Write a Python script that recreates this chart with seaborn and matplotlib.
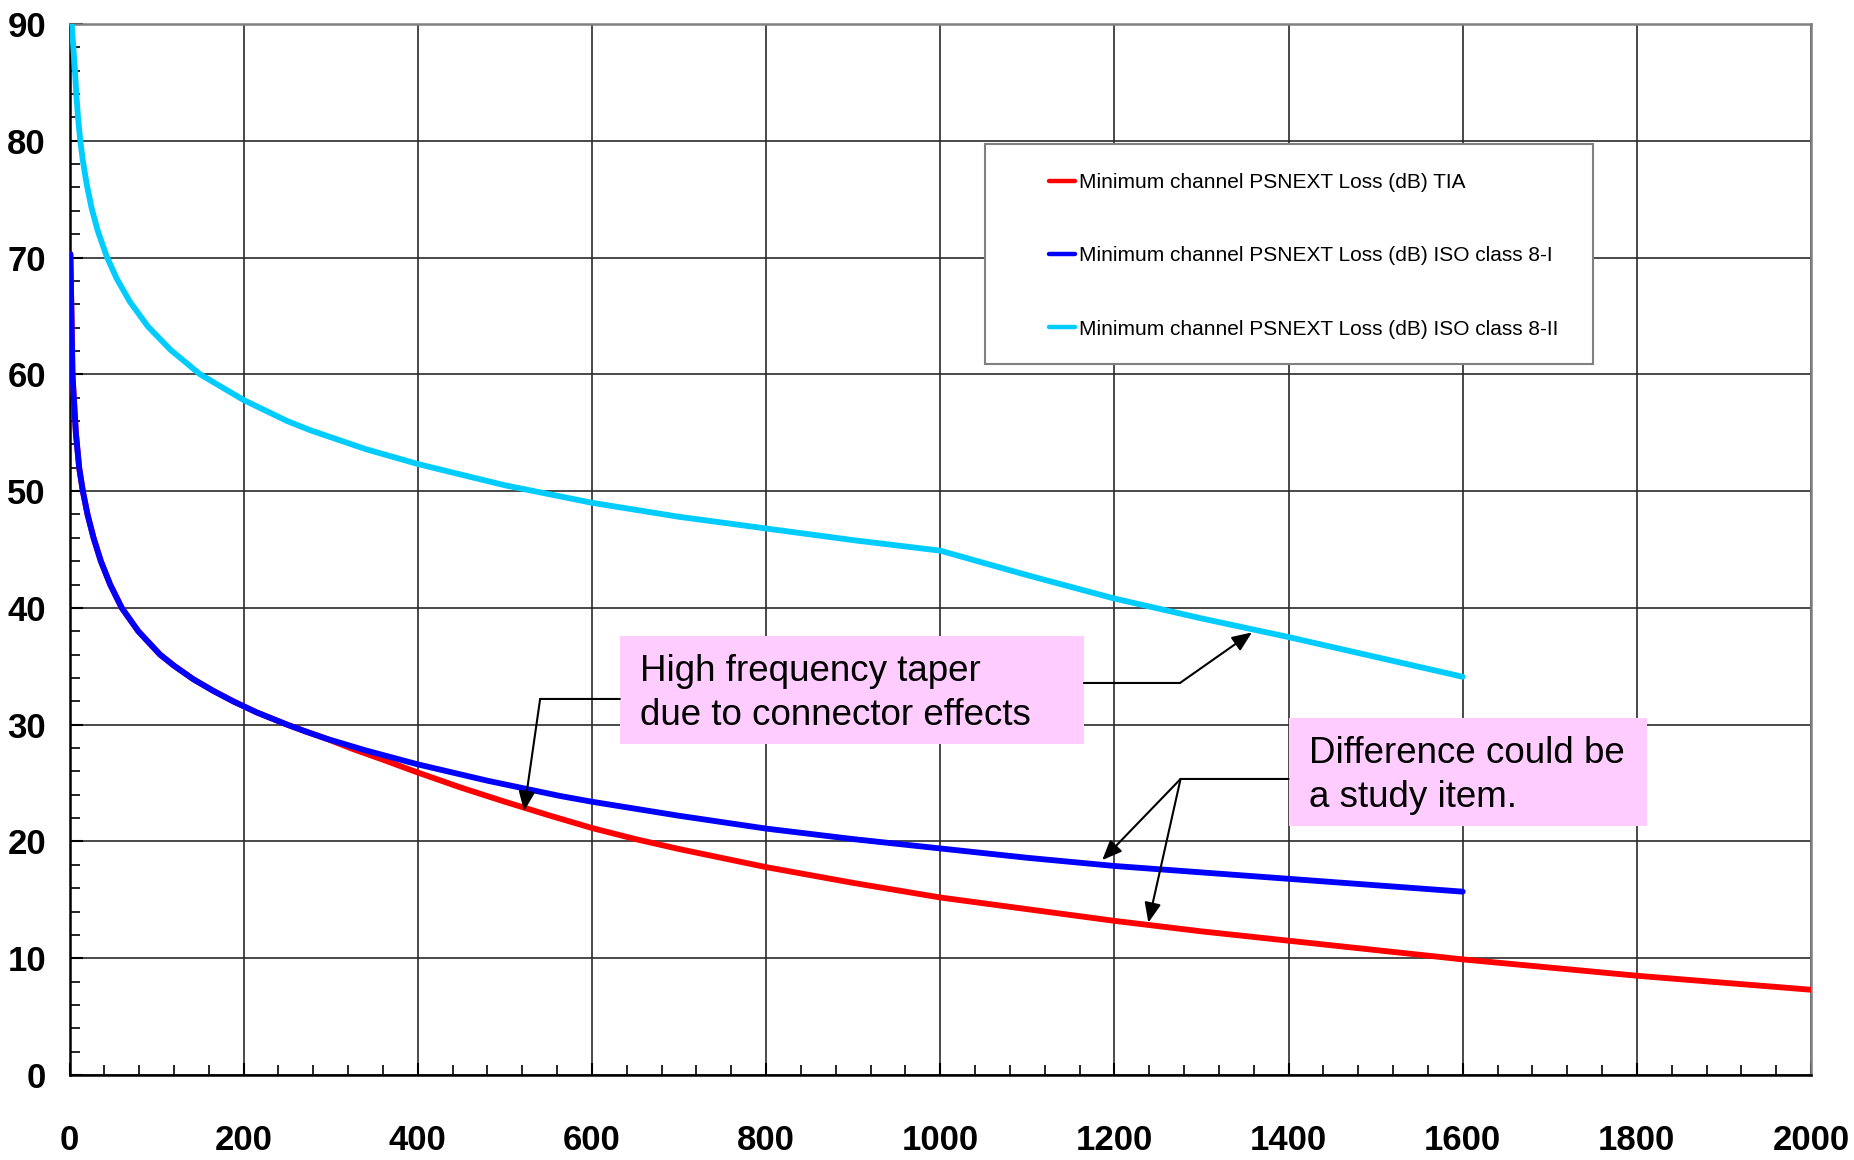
import matplotlib
matplotlib.use('Agg')
import matplotlib.pyplot as plt
import seaborn as sns
import pandas as pd
from matplotlib.patches import Rectangle
from matplotlib.ticker import MultipleLocator

# ---------------- data ----------------
label_tia = 'Minimum channel PSNEXT Loss (dB) TIA'
label_iso1 = 'Minimum channel PSNEXT Loss (dB) ISO class 8-I'
label_iso2 = 'Minimum channel PSNEXT Loss (dB) ISO class 8-II'

freq_tia = [1, 2.3, 3.4, 7.3, 11.1, 15.3, 20.7, 27.6, 36, 46.7, 60, 79, 104, 120, 142, 165,
            188, 215, 250, 270, 295, 326, 360, 400, 450, 500, 550, 600, 650, 700, 800, 900,
            1000, 1100, 1200, 1300, 1400, 1500, 1600, 1700, 1800, 1900, 2000]
psnext_tia = [70.3, 65.0, 60.0, 55.0, 52.0, 50.0, 48.0, 46.0, 44.0, 42.0, 40.0, 38.0, 36.0,
              35.05, 33.9, 32.9, 32.0, 31.05, 30.0, 29.45, 28.8, 27.9, 27.0, 25.9, 24.6, 23.4,
              22.25, 21.15, 20.2, 19.35, 17.8, 16.45, 15.2, 14.2, 13.2, 12.3, 11.5, 10.7,
              9.9, 9.2, 8.5, 7.9, 7.3]

freq_iso1 = [1, 2.3, 3.4, 7.3, 11.1, 15.3, 20.7, 27.6, 36, 46.7, 60, 79, 104, 120, 142, 165,
             188, 215, 250, 270, 295, 340, 400, 480, 563, 600, 700, 800, 900, 1000, 1100,
             1200, 1400, 1600]
psnext_iso1 = [70.3, 65.0, 60.0, 55.0, 52.0, 50.0, 48.0, 46.0, 44.0, 42.0, 40.0, 38.0, 36.0,
               35.05, 33.9, 32.9, 32.0, 31.05, 30.0, 29.45, 28.8, 27.8, 26.6, 25.2, 23.9, 23.4,
               22.2, 21.1, 20.2, 19.4, 18.6, 17.9, 16.8, 15.7]

freq_iso2 = [1, 2.5, 4.4, 6.3, 7.8, 9.8, 12.1, 15.1, 19.7, 25.5, 32.4, 42.7, 54.2, 69.5, 90,
             116, 150, 200, 250, 277, 340, 401, 500, 600, 700, 800, 900, 1000, 1100, 1200,
             1300, 1400, 1500, 1600]
psnext_iso2 = [92.0, 90.0, 88.0, 86.0, 84.0, 82.0, 80.2, 78.4, 76.3, 74.2, 72.3, 70.1, 68.2,
               66.2, 64.1, 62.1, 60.0, 57.8, 56.0, 55.2, 53.6, 52.3, 50.5, 49.0, 47.8, 46.8,
               45.8, 44.9, 42.8, 40.8, 39.1, 37.5, 35.8, 34.1]

x_ticks = list(range(0, 2001, 200))
y_ticks = list(range(0, 91, 10))

note_taper = ['High frequency taper', 'due to connector effects']
note_study = ['Difference could be', 'a study item.']

series_order = [label_tia, label_iso1, label_iso2]
palette = {label_tia: '#FF0000', label_iso1: '#0000FF', label_iso2: '#00CCFF'}

df = pd.concat([
    pd.DataFrame({'freq': freq_tia, 'loss': psnext_tia, 'series': label_tia}),
    pd.DataFrame({'freq': freq_iso1, 'loss': psnext_iso1, 'series': label_iso1}),
    pd.DataFrame({'freq': freq_iso2, 'loss': psnext_iso2, 'series': label_iso2}),
], ignore_index=True)

# ---------------- style ----------------
sns.set_theme(style='white')
font = ['Liberation Sans', 'DejaVu Sans']
plt.rcParams['font.family'] = font
plt.rcParams['text.color'] = 'black'

fig = plt.figure(figsize=(18.54, 11.6), dpi=100)
ax = fig.add_axes([69.5 / 1854, 1 - 1075 / 1160, (1811 - 69.5) / 1854, (1075 - 24) / 1160])

sns.lineplot(data=df, x='freq', y='loss', hue='series', hue_order=series_order,
             palette=palette, linewidth=4.2, estimator=None, sort=False, ax=ax, zorder=4)

ax.set_xlim(0, 2000)
ax.set_ylim(0, 90)
ax.set_xticks(x_ticks)
ax.set_yticks(y_ticks)
ax.set_xticklabels([str(v) for v in x_ticks])
ax.set_yticklabels([str(v) for v in y_ticks])
ax.xaxis.set_minor_locator(MultipleLocator(40))
ax.yaxis.set_minor_locator(MultipleLocator(2))
ax.set_xlabel('')
ax.set_ylabel('')

ax.grid(True, which='major', color='#2a2a2a', linewidth=1.2)
ax.set_axisbelow(True)

ax.tick_params(axis='both', which='major', direction='in', length=9, width=1.5,
               color='black', bottom=True, left=True, labelsize=25, labelcolor='black')
ax.tick_params(axis='x', which='major', pad=35)
ax.tick_params(axis='y', which='major', pad=17)
ax.tick_params(axis='both', which='minor', direction='in', length=7, width=1.2,
               color='black', bottom=True, left=True)
for lab in ax.get_xticklabels() + ax.get_yticklabels():
    lab.set_fontweight('bold')

for side in ['left', 'bottom']:
    ax.spines[side].set_color('black')
    ax.spines[side].set_linewidth(1.8)
for side in ['top', 'right']:
    ax.spines[side].set_color('#808080')
    ax.spines[side].set_linewidth(1.8)

# ---------------- legend ----------------
ax.add_patch(Rectangle((1051.7, 60.86), 698.3, 18.84, transform=ax.transData,
                       facecolor='white', edgecolor='#808080', linewidth=1.5, zorder=5))
handles, labels = ax.get_legend_handles_labels()
leg = ax.legend(handles, labels, loc='upper left', bbox_to_anchor=(0.5624, 0.858),
                frameon=False, borderpad=0, borderaxespad=0, handlelength=1.25,
                handletextpad=0.2, labelspacing=2.6,
                prop={'family': font, 'size': 15})
leg.set_zorder(6)
for ln in leg.get_lines():
    ln.set_linewidth(3.2)
for t in leg.get_texts():
    t.set_color('black')

# ---------------- annotation boxes ----------------
pink = '#FFCCFF'
ax.add_patch(Rectangle((632, 28.35), 533, 9.28, facecolor=pink, edgecolor='none', zorder=5))
ax.text(655.4, 33.77, note_taper[0], fontsize=26.5, va='baseline', ha='left', zorder=6)
ax.text(655.4, 30.0, note_taper[1], fontsize=26.5, va='baseline', ha='left', zorder=6)

ax.add_patch(Rectangle((1400, 21.28), 412, 9.29, facecolor=pink, edgecolor='none', zorder=5))
ax.text(1423.8, 26.68, note_study[0], fontsize=26.5, va='baseline', ha='left', zorder=6)
ax.text(1423.8, 22.97, note_study[1], fontsize=26.5, va='baseline', ha='left', zorder=6)

plain = dict(arrowstyle='-', color='black', lw=1.5, shrinkA=0, shrinkB=0)
arrow = dict(arrowstyle='-|>,head_length=0.6,head_width=0.25', color='black', lw=1.5,
             shrinkA=0, shrinkB=0, mutation_scale=20)

# taper -> red curve
ax.annotate('', xy=(540.5, 32.2), xytext=(632, 32.2), arrowprops=plain, zorder=6)
ax.annotate('', xy=(522, 22.6), xytext=(540.5, 32.2), arrowprops=arrow, zorder=6)
# taper -> cyan curve
ax.annotate('', xy=(1275.3, 33.57), xytext=(1165, 33.57), arrowprops=plain, zorder=6)
ax.annotate('', xy=(1358, 37.9), xytext=(1275.3, 33.57), arrowprops=arrow, zorder=6)
# study item -> blue and red curves
ax.annotate('', xy=(1276, 25.35), xytext=(1400, 25.35), arrowprops=plain, zorder=6)
ax.annotate('', xy=(1186, 18.4), xytext=(1276, 25.35), arrowprops=arrow, zorder=6)
ax.annotate('', xy=(1239, 13.05), xytext=(1276, 25.35), arrowprops=arrow, zorder=6)

fig.savefig('out.png', dpi=100, facecolor='white')
